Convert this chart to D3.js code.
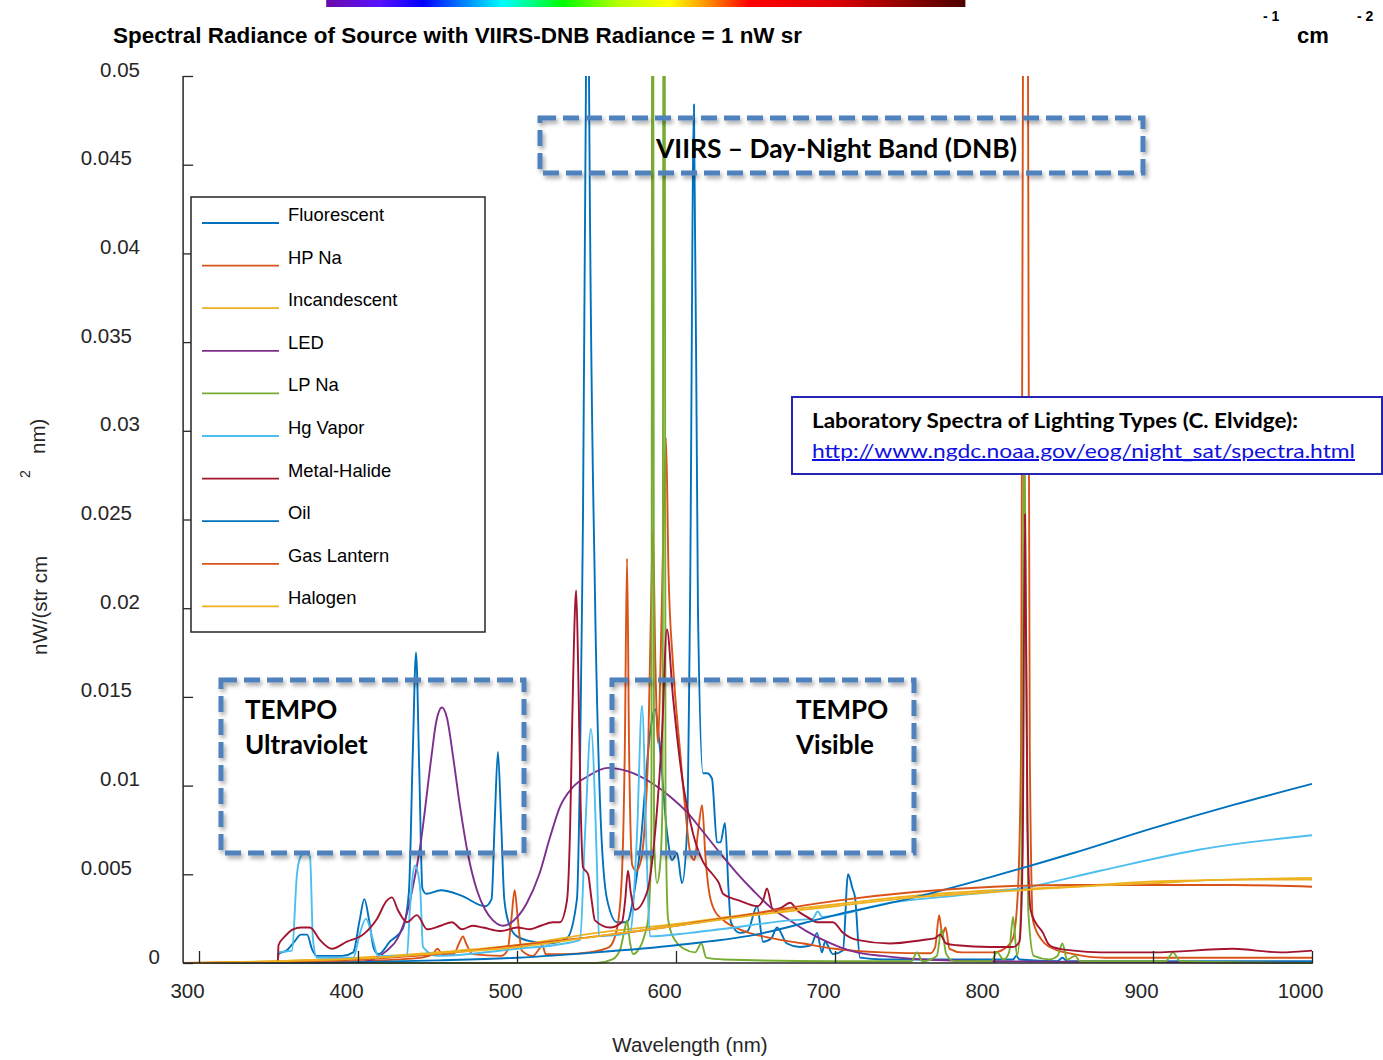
<!DOCTYPE html>
<html>
<head>
<meta charset="utf-8">
<script src="https://cdn.jsdelivr.net/npm/d3@7"></script>
<style>
  body { margin: 0; background: #fff; }
  text { font-family: "Liberation Sans", Arial, sans-serif; }
  .callout { font-family: Lato, "Open Sans", sans-serif; font-weight: bold; }
</style>
</head>
<body>
<div id="chart"></div>
<script>
// series names and colours (legend order = drawing order)
var names = ["Fluorescent", "HP Na", "Incandescent", "LED", "LP Na", "Hg Vapor", "Metal-Halide", "Oil", "Gas Lantern", "Halogen"];
var colors = ["#0072BD", "#D95319", "#EDB120", "#7E2F8E", "#77AC30", "#4DBEEE", "#A2142F", "#0072BD", "#D95319", "#EDB120"];

// [wavelength nm, radiance]
var fluorescent = [[290,0],[349.5,0],[350,0.0005],[355,0.0007],[360,0.0012],[364,0.0016],[368,0.0016],[371,0.0008],[374,0.0004],[390,0.0004],[397,0.0006],[401,0.0024],[404,0.0036],[407,0.0024],[410,0.0008],[413,0.0005],[420,0.0012],[428,0.0019],[432,0.004],[434.5,0.012],[436.5,0.0175],[438.5,0.011],[440.5,0.0042],[443,0.0039],[452,0.0041],[465,0.0038],[480,0.0032],[484,0.0036],[486,0.008],[488,0.0119],[490,0.008],[492,0.0036],[495,0.0022],[500,0.0015],[510,0.0012],[520,0.0011],[531.4,0.0014],[537.7,0.0036],[539.6,0.011],[541,0.021],[543.4,0.05],[544.3,0.075],[545.3,0.05],[549,0.021],[552.2,0.0091],[556.6,0.0036],[562.9,0.0023],[569.2,0.0023],[573,0.0036],[577.4,0.0064],[583.6,0.0129],[586.8,0.0143],[589.9,0.0121],[594.3,0.0074],[597.5,0.0058],[600.6,0.0062],[603.8,0.0045],[606.9,0.0074],[608.8,0.02],[611.3,0.0484],[613.8,0.02],[617,0.0107],[619.5,0.0107],[622.6,0.0104],[625.8,0.0068],[628,0.0068],[630.8,0.0079],[633,0.0042],[634.5,0.0023],[640,0.0017],[645,0.0018],[651,0.0032],[654.7,0.0012],[660,0.0014],[663.5,0.002],[669.8,0.0011],[678,0.0009],[685,0.001],[688.7,0.0017],[691.8,0.0006],[693.7,0.0012],[698.7,0.0005],[705,0.0007],[708.2,0.005],[711,0.0042],[712.6,0.0037],[715.7,0.0003],[730,0.0002],[812,0.0002],[814,0.0004],[816,0.0002],[840,0.0001],[843,0.0003],[846,0.0001],[1000,0.0001]];
var hpNa = [[290,0],[350,0],[400,0.0001],[440,0.0003],[447,0.0005],[450,0.0008],[453,0.0005],[460,0.0005],[464,0.0012],[466,0.0015],[468,0.0011],[472,0.0005],[490,0.0004],[494,0.0007],[496.5,0.0025],[498.5,0.0041],[500.5,0.0025],[503,0.0007],[510,0.0004],[514,0.0008],[516,0.001],[518,0.0005],[530,0.0005],[545,0.0006],[558,0.0009],[563,0.002],[566,0.005],[567.8,0.012],[569.2,0.0228],[570.5,0.012],[572.5,0.0055],[575,0.0052],[578,0.0058],[580.5,0.008],[582.5,0.012],[584.5,0.021],[585.5,0.0244],[587,0.017],[588.7,0.0124],[590.3,0.017],[592,0.024],[593.7,0.0296],[595.3,0.022],[598,0.017],[602.5,0.012],[606,0.0085],[609,0.0062],[611.5,0.0058],[614,0.0075],[616.4,0.0089],[618.5,0.006],[620.5,0.0042],[624,0.003],[630,0.0024],[640,0.0019],[660,0.0014],[680,0.0011],[700,0.0008],[730,0.0006],[760,0.00055],[763,0.0009],[765.5,0.0027],[767.5,0.0016],[769.5,0.002],[772,0.0008],[780,0.0006],[800,0.0006],[808,0.0009],[812,0.0014],[815,0.004],[817,0.012],[818.2,0.05],[819.8,0.09],[821.4,0.05],[822.5,0.012],[824.5,0.0024],[830,0.0013],[835,0.0009],[850,0.0005],[870,0.0003],[1000,0.0003]];
var incandescent = [[290,0],[350,0.0001],[400,0.0003],[450,0.0006],[500,0.001],[550,0.0017],[600,0.0022],[650,0.0028],[700,0.0033],[750,0.0038],[800,0.0041],[850,0.0043],[900,0.0046],[950,0.0047],[1000,0.0048]];
var led = [[290,0],[400,0],[409.4,0.0002],[418.2,0.0007],[425,0.0014],[430.8,0.0028],[435,0.0045],[439,0.0065],[446,0.0115],[449,0.0135],[452.8,0.0144],[456,0.0138],[460,0.0115],[464.2,0.0088],[469,0.0062],[474.8,0.0041],[480,0.003],[484.9,0.0024],[491.2,0.0021],[498,0.0024],[506.3,0.0034],[514,0.005],[520.8,0.0071],[527,0.0088],[535,0.0099],[544,0.0105],[557.2,0.011],[570,0.0108],[585.5,0.0101],[596,0.0094],[606.9,0.0085],[617,0.0074],[627.7,0.0062],[638,0.0051],[648.4,0.0041],[660,0.0031],[671.7,0.0024],[682,0.0018],[692.5,0.0013],[703,0.0009],[713.8,0.0006],[730,0.0004],[755.3,0.0002],[800,0.0001],[1000,0]];
var lpNa = [[290,0],[550,0],[560,0.0002],[565,0.0008],[567.5,0.0018],[569.2,0.0024],[571,0.0012],[573,0.0005],[576,0.0007],[580,0.0015],[582.5,0.0025],[584.5,0.007],[585.3,0.09],[586.2,0.007],[588,0.0045],[590,0.0055],[591.5,0.009],[592.5,0.09],[593.4,0.009],[595,0.0025],[598,0.0015],[605,0.0008],[612,0.0006],[616,0.0011],[619,0.0003],[630,0.0002],[700,0.0001],[748,0.0001],[751.6,0.0006],[755,0.0001],[764,0.0004],[767,0.0019],[770,0.0005],[775,0.0001],[798,0.0001],[802,0.0006],[806,0.0002],[809.5,0.0006],[812,0.0026],[814.5,0.0004],[817,0.003],[819.2,0.03],[821.5,0.003],[825,0.0004],[835,0.0002],[840,0.0004],[843,0.0011],[846,0.0002],[851,0.0004],[854,0.0001],[908,0.0001],[912.6,0.0006],[917,0.0001],[1000,0]];
var hgVapor = [[290,0],[349.5,0],[350,0.0006],[358.5,0.0007],[361.6,0.005],[364,0.006],[366.7,0.0062],[369.8,0.006],[371.7,0.0013],[374.2,0.0003],[397,0.0003],[401.3,0.0017],[405,0.0025],[409.4,0.0013],[412.6,0.0004],[430.8,0.0004],[432.7,0.0031],[435.8,0.0055],[439,0.0043],[440.9,0.0009],[450,0.0004],[500,0.0008],[530,0.0011],[539.6,0.0013],[542.8,0.0073],[546.5,0.0132],[550.3,0.0054],[551.5,0.0015],[571.1,0.0017],[575.5,0.0073],[578.6,0.0145],[581.8,0.0054],[583.6,0.0015],[608.8,0.0017],[627.7,0.0019],[671.7,0.0024],[686,0.0025],[689.1,0.0029],[692,0.0026],[734.6,0.0034],[776.7,0.0038],[816.4,0.0042],[866.7,0.0052],[929.6,0.0064],[1000,0.0072]];
var metalHalide = [[290,0],[349.5,0],[350,0.001],[354,0.0015],[359.1,0.0019],[364,0.002],[369.8,0.002],[376,0.0013],[383.6,0.0008],[393,0.0012],[403.1,0.0016],[412,0.0025],[418,0.0035],[421.4,0.0037],[425,0.003],[430.8,0.0023],[437.1,0.0027],[443.4,0.0019],[452,0.0021],[459.1,0.0023],[465.4,0.0019],[472,0.0021],[478.6,0.002],[490,0.0018],[500,0.002],[508.2,0.0019],[515,0.0021],[522.6,0.0023],[527,0.0023],[531.4,0.0035],[533.5,0.008],[534.6,0.013],[536.5,0.02],[537.2,0.021],[538.4,0.017],[540,0.009],[541.5,0.0054],[544.7,0.005],[547,0.0035],[549,0.0024],[558.5,0.002],[566,0.0023],[568,0.0035],[569.8,0.0052],[571.5,0.004],[574.2,0.003],[581.8,0.004],[586.8,0.0073],[591.2,0.0129],[594.3,0.0188],[598.1,0.015],[604.4,0.0101],[610.7,0.0073],[617,0.0057],[623,0.005],[627,0.0045],[629.6,0.0039],[640.3,0.0035],[651,0.0032],[655,0.0036],[657.2,0.0042],[661,0.003],[666,0.0031],[671.7,0.0034],[677,0.0029],[682.4,0.0026],[688.7,0.0023],[698.7,0.0023],[705,0.0017],[713.8,0.0013],[734.6,0.0011],[755.3,0.0013],[763,0.0014],[766,0.0016],[770,0.0011],[776.7,0.001],[797.5,0.0009],[812,0.0009],[816,0.0012],[818,0.006],[819.5,0.0253],[821,0.008],[823,0.003],[826,0.0023],[830.8,0.0017],[834,0.0011],[837.1,0.0009],[850,0.0007],[866.7,0.0006],[900,0.0006],[950.3,0.0008],[980,0.0006],[1000,0.0007]];
var oil = [[290,0],[350,0],[400,0.00005],[450,0.00015],[500,0.0003],[550,0.0006],[600,0.001],[650,0.0016],[700,0.0027],[750,0.0037],[800,0.0049],[850,0.0062],[900,0.0076],[950,0.0089],[1000,0.0101]];
var gasLantern = [[290,0],[350,0.00005],[400,0.0002],[450,0.0005],[500,0.001],[550,0.0015],[600,0.0021],[650,0.0028],[700,0.0035],[750,0.004],[800,0.0043],[850,0.0044],[900,0.0044],[950,0.0044],[1000,0.0043]];
var halogen = [[290,0],[350,0.0001],[400,0.00025],[450,0.00055],[500,0.0009],[550,0.0015],[600,0.0021],[650,0.0027],[700,0.0032],[750,0.0037],[800,0.004],[850,0.0043],[900,0.0045],[950,0.0047],[1000,0.0047]];

var series = [fluorescent, hpNa, incandescent, led, lpNa, hgVapor, metalHalide, oil, gasLantern, halogen];

var xTicks = [300, 400, 500, 600, 700, 800, 900, 1000];
var yTicks = [0, 0.005, 0.01, 0.015, 0.02, 0.025, 0.03, 0.035, 0.04, 0.045, 0.05];

// visible-spectrum bar: [nm, colour]
var rainbowStops = [[380,"#6a0aa8"],[413,"#5a10ff"],[441,"#0000ff"],[491,"#00ffff"],[529,"#00ff00"],[563,"#b4ff00"],[596,"#ffff00"],[618,"#ff9900"],[646,"#ff0000"],[700,"#dd0000"],[782,"#4d0000"]];

var svg = d3.select("#chart").append("svg")
    .attr("width", 1383)
    .attr("height", 1060);

var x = d3.scaleLinear().domain([300, 1000]).range([199, 1312]);
var y = d3.scaleLinear().domain([0, 0.05]).range([963, 76]);

var defs = svg.append("defs");
defs.append("clipPath").attr("id", "plotClip")
  .append("rect")
    .attr("x", x(290) - 1).attr("y", y(0.05))
    .attr("width", x(1000) - x(290) + 3).attr("height", y(0) - y(0.05) + 2);

var shadow = defs.append("filter").attr("id", "shadow")
    .attr("x", "-10%").attr("y", "-20%").attr("width", "120%").attr("height", "150%");
shadow.append("feDropShadow")
    .attr("dx", 2).attr("dy", 3).attr("stdDeviation", 2)
    .attr("flood-color", "#000").attr("flood-opacity", 0.35);

var grad = defs.append("linearGradient").attr("id", "rainbow")
    .attr("gradientUnits", "userSpaceOnUse")
    .attr("x1", x(380)).attr("x2", x(782)).attr("y1", 0).attr("y2", 0);
grad.selectAll("stop").data(rainbowStops).enter().append("stop")
    .attr("offset", function(d) { return (d[0] - 380) / (782 - 380); })
    .attr("stop-color", function(d) { return d[1]; });

svg.append("rect")
    .attr("x", x(380)).attr("y", 0)
    .attr("width", x(782) - x(380)).attr("height", 7)
    .style("fill", "url(#rainbow)");

// title
svg.append("text").attr("x", 113).attr("y", 43)
    .style("font-size", "22px").style("font-weight", "bold").style("fill", "#000")
    .attr("textLength", 689).attr("lengthAdjust", "spacingAndGlyphs")
    .text("Spectral Radiance of Source with VIIRS-DNB Radiance = 1 nW sr");
svg.append("text").attr("x", 1263).attr("y", 21)
    .style("font-size", "14px").style("font-weight", "bold").text("- 1");
svg.append("text").attr("x", 1297).attr("y", 43)
    .style("font-size", "22px").style("font-weight", "bold").text("cm");
svg.append("text").attr("x", 1357).attr("y", 21)
    .style("font-size", "14px").style("font-weight", "bold").text("- 2");

// spectra
var line = d3.line()
    .x(function(d) { return x(d[0]); })
    .y(function(d) { return y(d[1]); })
    .curve(d3.curveMonotoneX);

svg.append("g").attr("clip-path", "url(#plotClip)")
  .selectAll(".spectrum")
  .data(series)
  .enter().append("path")
    .attr("class", "spectrum")
    .attr("d", line)
    .style("fill", "none")
    .style("stroke", function(d, i) { return colors[i]; })
    .style("stroke-width", 1.9)
    .style("stroke-linejoin", "round");

// axes
var axisColor = "#262626";
var xAxis = svg.append("g")
    .attr("transform", "translate(0," + y(0) + ")")
    .call(d3.axisBottom(x).tickValues(xTicks).tickSize(-12).tickSizeOuter(0).tickFormat(d3.format("d")));
xAxis.select(".domain").remove();
xAxis.selectAll(".tick line").style("stroke", axisColor).style("stroke-width", 1.3);
xAxis.selectAll(".tick text")
    .attr("y", 35).attr("dy", null).attr("dx", -12)
    .style("font-size", "20.5px").style("fill", axisColor)
    .style("font-family", "'Liberation Sans', Arial, sans-serif");
svg.append("line")
    .attr("x1", x(290)).attr("x2", x(1000) + 1)
    .attr("y1", y(0)).attr("y2", y(0))
    .style("stroke", axisColor).style("stroke-width", 1.5);

var labelEnd = { 1: 160, 4: 140, 5: 132 };
var yAxis = svg.append("g")
    .attr("transform", "translate(" + x(290) + ",0)")
    .call(d3.axisLeft(y).tickValues(yTicks).tickSize(-10).tickSizeOuter(0)
      .tickFormat(function(d) { return String(+d.toFixed(3)); }));
yAxis.select(".domain").remove();
yAxis.selectAll(".tick line").style("stroke", axisColor).style("stroke-width", 1.3);
yAxis.selectAll(".tick text")
    .attr("x", function(d) { return labelEnd[String(+d.toFixed(3)).length] - x(290); })
    .attr("dy", null).attr("y", 0)
    .style("text-anchor", "end")
    .style("font-size", "20.5px").style("fill", axisColor)
    .style("font-family", "'Liberation Sans', Arial, sans-serif");
svg.append("line")
    .attr("x1", x(290)).attr("x2", x(290))
    .attr("y1", y(0.05)).attr("y2", y(0))
    .style("stroke", axisColor).style("stroke-width", 1.5);

// axis titles
svg.append("text").attr("x", 690).attr("y", 1052)
    .style("text-anchor", "middle").style("font-size", "20.5px").style("fill", axisColor)
    .text("Wavelength (nm)");
svg.append("text").attr("transform", "translate(47,655) rotate(-90)")
    .style("font-size", "20.5px").style("fill", axisColor)
    .text("nW/(str cm");
svg.append("text").attr("transform", "translate(30,478) rotate(-90)")
    .style("font-size", "14px").style("fill", axisColor)
    .text("2");
svg.append("text").attr("transform", "translate(45,454) rotate(-90)")
    .style("font-size", "20.5px").style("fill", axisColor)
    .text("nm)");

// legend
var legend = svg.append("g");
legend.append("rect")
    .attr("x", 191).attr("y", 197).attr("width", 294).attr("height", 435)
    .style("fill", "#fff").style("stroke", axisColor).style("stroke-width", 1.5);
var entries = legend.selectAll(".entry").data(names).enter().append("g")
    .attr("class", "entry")
    .attr("transform", function(d, i) { return "translate(0," + (221 + i * 42.6) + ")"; });
entries.append("line")
    .attr("x1", 202).attr("x2", 279).attr("y1", 2).attr("y2", 2)
    .style("stroke", function(d, i) { return colors[i]; })
    .style("stroke-width", 1.8);
entries.append("text")
    .attr("x", 288).attr("y", 0)
    .style("font-size", "18.4px").style("fill", "#000")
    .text(function(d) { return d; });

// dashed callout boxes
var callouts = [
  { x0: 540, y0: 118, x1: 1143, y1: 173, lines: ["VIIRS \u2013 Day-Night Band (DNB)"], tx: 656, ty: 158, tl: 361 },
  { x0: 221, y0: 680, x1: 524, y1: 853, lines: ["TEMPO", "Ultraviolet"], tx: 245, ty: 719 },
  { x0: 612, y0: 680, x1: 914, y1: 853, lines: ["TEMPO", "Visible"], tx: 796, ty: 719 }
];
callouts.forEach(function(c) {
  svg.append("rect")
    .attr("x", c.x0).attr("y", c.y0)
    .attr("width", c.x1 - c.x0).attr("height", c.y1 - c.y0)
    .style("fill", "none").style("stroke", "#4F81BD")
    .style("stroke-width", 5).style("stroke-dasharray", "16 7")
    .attr("filter", "url(#shadow)");
  c.lines.forEach(function(t, i) {
    var el = svg.append("text").attr("class", "callout")
      .attr("x", c.tx).attr("y", c.ty + i * 35)
      .style("font-size", "26px").style("fill", "#000")
      .text(t);
    if (c.tl) el.attr("textLength", c.tl).attr("lengthAdjust", "spacingAndGlyphs");
  });
});

// source box
svg.append("rect")
    .attr("x", 792).attr("y", 397).attr("width", 590).attr("height", 77)
    .style("fill", "#fff").style("stroke", "#2525B5").style("stroke-width", 2);
svg.append("text").attr("class", "callout")
    .attr("x", 812).attr("y", 428)
    .attr("textLength", 486).attr("lengthAdjust", "spacingAndGlyphs")
    .style("font-size", "20px").style("fill", "#000")
    .text("Laboratory Spectra of Lighting Types (C. Elvidge):");
svg.append("text")
    .attr("x", 812).attr("y", 458)
    .attr("textLength", 543).attr("lengthAdjust", "spacingAndGlyphs")
    .style("font-family", "Lato, 'Open Sans', sans-serif")
    .style("font-size", "20px").style("fill", "#1010E0")
    .style("text-decoration", "underline")
    .text("http://www.ngdc.noaa.gov/eog/night_sat/spectra.html");
</script>
</body>
</html>
